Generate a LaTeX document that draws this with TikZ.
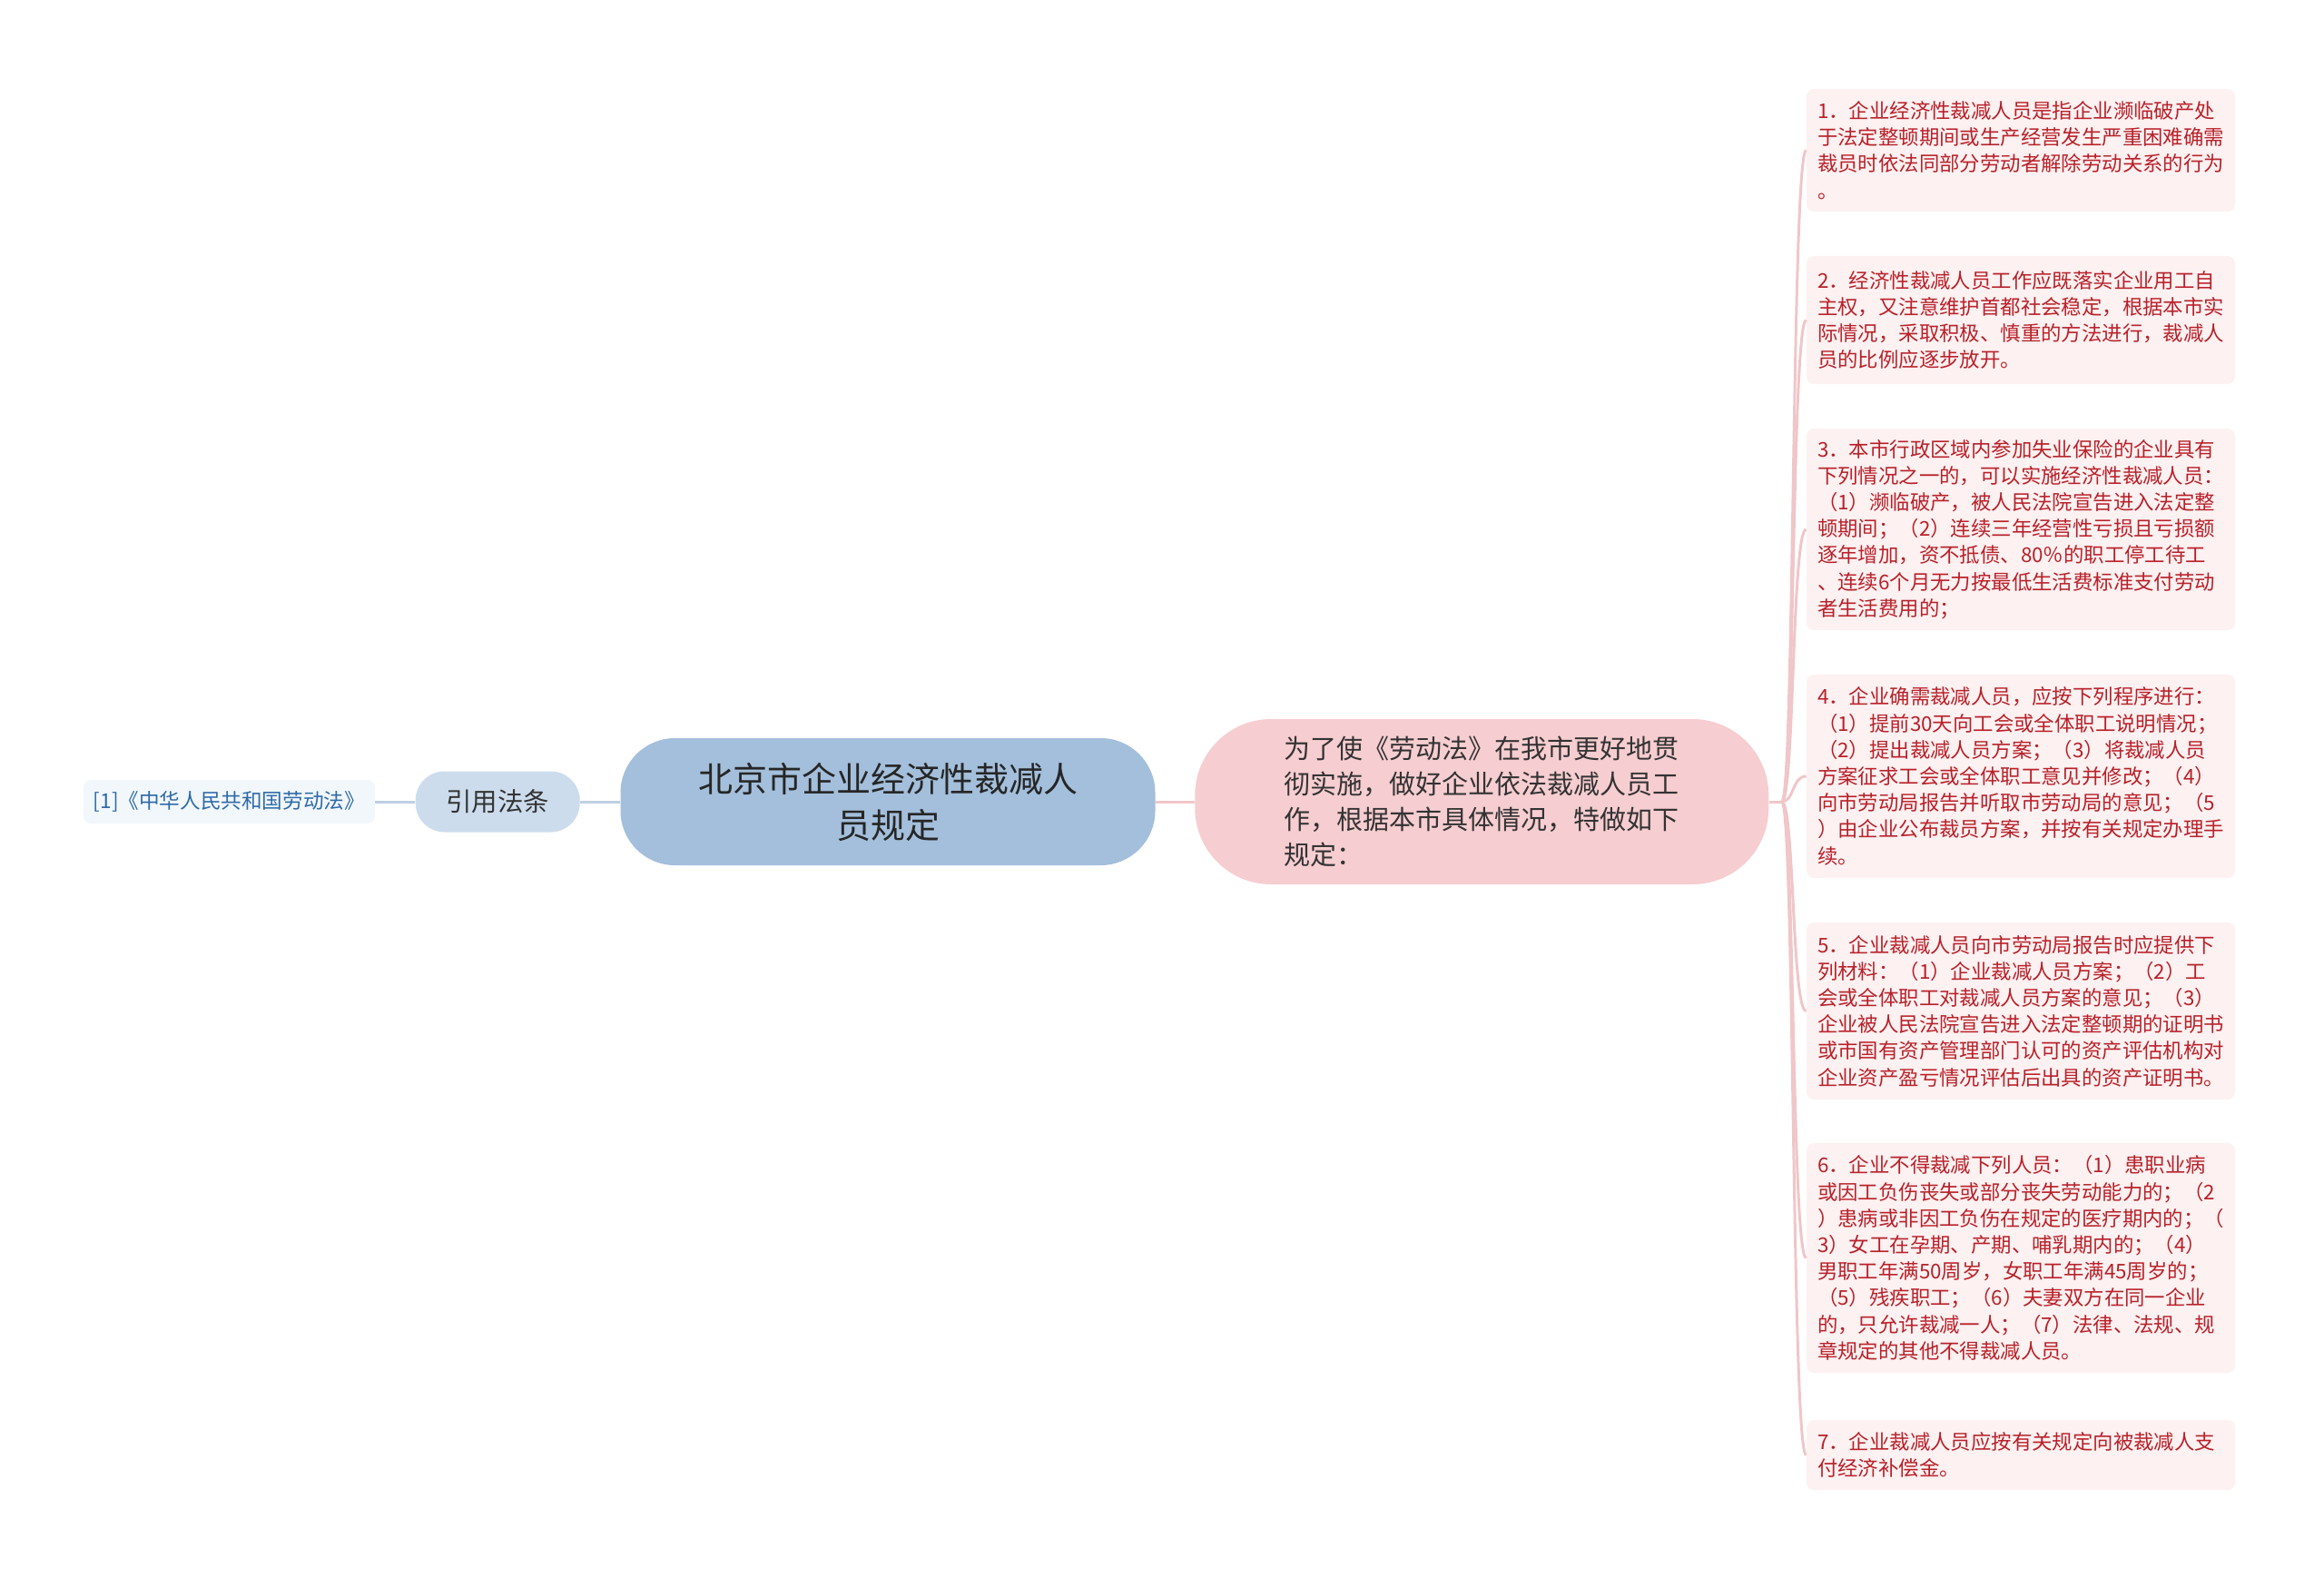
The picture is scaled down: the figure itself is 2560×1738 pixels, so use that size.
\documentclass[tikz,border=0pt]{standalone}
\usepackage{fontspec}
\setmainfont{Noto Sans CJK SC}
\usetikzlibrary{positioning}
\definecolor{rootblue}{HTML}{A3BFDB}
\definecolor{lawblue}{HTML}{CCDCED}
\definecolor{refblue}{HTML}{F2F7FC}
\definecolor{reftext}{HTML}{2D6AA8}
\definecolor{intropink}{HTML}{F6CDD0}
\definecolor{rulepink}{HTML}{FDF1F1}
\definecolor{ruletext}{HTML}{B8212A}
\definecolor{lineblue}{HTML}{BFD0E3}
\definecolor{linepink}{HTML}{F0C6C8}
\tikzset{
    title node/.style = {
        fill = rootblue,
        text = black!85,
        rounded corners = 30pt,
        minimum width = 294.5pt,
        minimum height = 70pt,
        align = center,
        font = \fontsize{19}{25.5}\selectfont,
        },
    law node/.style = {
        fill = lawblue,
        text = black!80,
        rounded corners = 16pt,
        minimum width = 90.5pt,
        minimum height = 33.5pt,
        font = \fontsize{14.2}{17}\selectfont,
        },
    ref node/.style = {
        fill = refblue,
        text = reftext,
        rounded corners = 4pt,
        inner xsep = 5.5pt,
        minimum height = 24pt,
        font = \fontsize{11.3}{13}\selectfont,
        },
    intro node/.style = {
        fill = intropink,
        text = black!80,
        rounded corners = 42pt,
        minimum width = 316pt,
        minimum height = 91pt,
        align = left,
        font = \fontsize{14.5}{19.4}\selectfont,
        },
    rule node/.style = {
        fill = rulepink,
        text = ruletext,
        rounded corners = 4pt,
        inner xsep = 6pt,
        text width = 224pt,
        align = left,
        font = \fontsize{11.2}{14.6}\selectfont,
        },
    blue line/.style = {
        draw = lineblue,
        line width = 1.5pt,
        },
    pink line/.style = {
        draw = linepink,
        line width = 1.5pt,
        },
}

\begin{document}
\begin{tikzpicture}[x=0.5pt, y=-0.5pt]
    \useasboundingbox (0,0) rectangle (2560,1738);

    \node[title node] (root) at (978,883) {北京市企业经济性裁减人\\员规定};
    \node[law node, left=22pt of root] (law) {引用法条};
    \node[ref node, left=22pt of law] (ref) {[1]《中华人民共和国劳动法》};
    \node[intro node, right=21.5pt of root] (intro) {为了使《劳动法》在我市更好地贯\\彻实施，做好企业依法裁减人员工\\作，根据本市具体情况，特做如下\\规定：};

    \node[rule node, minimum height=67.5pt] (r1) at (2226,165.5) {1．企业经济性裁减人员是指企业濒临破产处\\于法定整顿期间或生产经营发生严重困难确需\\裁员时依法同部分劳动者解除劳动关系的行为\\。};
    \node[rule node, minimum height=70.5pt] (r2) at (2226,352.5) {2．经济性裁减人员工作应既落实企业用工自\\主权，又注意维护首都社会稳定，根据本市实\\际情况，采取积极、慎重的方法进行，裁减人\\员的比例应逐步放开。};
    \node[rule node, minimum height=111pt] (r3) at (2226,583) {3．本市行政区域内参加失业保险的企业具有\\下列情况之一的，可以实施经济性裁减人员：\\（1）濒临破产，被人民法院宣告进入法定整\\顿期间；（2）连续三年经营性亏损且亏损额\\逐年增加，资不抵债、80％的职工停工待工\\、连续6个月无力按最低生活费标准支付劳动\\者生活费用的；};
    \node[rule node, minimum height=112pt] (r4) at (2226,855) {4．企业确需裁减人员，应按下列程序进行：\\（1）提前30天向工会或全体职工说明情况；\\（2）提出裁减人员方案；（3）将裁减人员\\方案征求工会或全体职工意见并修改；（4）\\向市劳动局报告并听取市劳动局的意见；（5\\）由企业公布裁员方案，并按有关规定办理手\\续。};
    \node[rule node, minimum height=97.5pt] (r5) at (2226,1113.5) {5．企业裁减人员向市劳动局报告时应提供下\\列材料：（1）企业裁减人员方案；（2）工\\会或全体职工对裁减人员方案的意见；（3）\\企业被人民法院宣告进入法定整顿期的证明书\\或市国有资产管理部门认可的资产评估机构对\\企业资产盈亏情况评估后出具的资产证明书。};
    \node[rule node, minimum height=126.5pt] (r6) at (2226,1385.5) {6．企业不得裁减下列人员：（1）患职业病\\或因工负伤丧失或部分丧失劳动能力的；（2\\）患病或非因工负伤在规定的医疗期内的；（\\3）女工在孕期、产期、哺乳期内的；（4）\\男职工年满50周岁，女职工年满45周岁的；\\（5）残疾职工；（6）夫妻双方在同一企业\\的，只允许裁减一人；（7）法律、法规、规\\章规定的其他不得裁减人员。};
    \node[rule node, minimum height=38.5pt] (r7) at (2226,1602.5) {7．企业裁减人员应按有关规定向被裁减人支\\付经济补偿金。};

    \path (root) edge[blue line] (law);
    \path (law) edge[blue line] (ref);
    \path (root) edge[pink line] (intro);

    \coordinate (hub) at ([xshift=7pt]intro.east);
    \path (intro.east) edge[pink line] (hub);
    \draw[pink line] (hub) .. controls +(14,0) and +(-16,0) .. (r1.west);
    \draw[pink line] (hub) .. controls +(14,0) and +(-16,0) .. (r2.west);
    \draw[pink line] (hub) .. controls +(14,0) and +(-16,0) .. (r3.west);
    \draw[pink line] (hub) .. controls +(14,0) and +(-16,0) .. (r4.west);
    \draw[pink line] (hub) .. controls +(14,0) and +(-16,0) .. (r5.west);
    \draw[pink line] (hub) .. controls +(14,0) and +(-16,0) .. (r6.west);
    \draw[pink line] (hub) .. controls +(14,0) and +(-16,0) .. (r7.west);
\end{tikzpicture}
\end{document}
